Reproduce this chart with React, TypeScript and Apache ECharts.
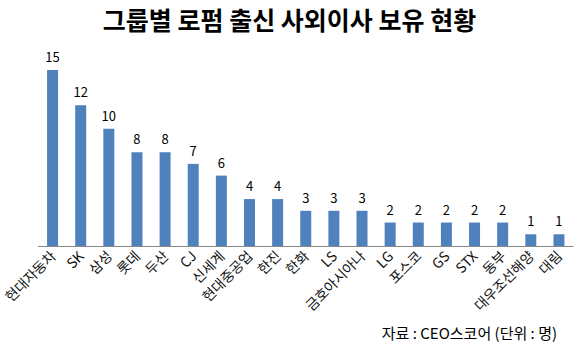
import React, { useEffect, useRef } from "react";
import * as echarts from "echarts";

const categories = ["현대자동차", "SK", "삼성", "롯데", "두산", "CJ", "신세계", "현대중공업", "한진", "한화", "LS", "금호아시아나", "LG", "포스코", "GS", "STX", "동부", "대우조선해양", "대림"];
const values = [15, 12, 10, 8, 8, 7, 6, 4, 4, 3, 3, 3, 2, 2, 2, 2, 2, 1, 1];
const title = "그룹별 로펌 출신 사외이사 보유 현황";
const note = "자료 : CEO스코어 (단위 : 명)";

const FONT = "'Noto Sans CJK KR', 'Noto Sans', sans-serif";

export default function App() {
  const ref = useRef<HTMLDivElement>(null);
  useEffect(() => {
    if (!ref.current) return;
    const chart = echarts.init(ref.current, null, { renderer: "svg" });
    chart.setOption({
      animation: false,
      backgroundColor: "#ffffff",
      textStyle: { fontFamily: FONT },
      title: {
        text: title,
        left: "center",
        top: 1,
        textStyle: { fontSize: 25, fontWeight: "bold", color: "#000", fontFamily: FONT },
      },
      graphic: [
        {
          type: "text",
          right: 22,
          top: 325,
          style: { text: note, fontSize: 15, fill: "#000", fontFamily: FONT },
        },
      ],
      grid: { left: 37, right: 6, top: 70, bottom: 109, containLabel: false },
      xAxis: {
        type: "category",
        data: categories,
        axisLine: { lineStyle: { color: "#888888" } },
        axisTick: { show: false },
        axisLabel: { rotate: 45, interval: 0, fontSize: 14, color: "#111", margin: 7, fontFamily: FONT },
      },
      yAxis: {
        type: "value",
        min: 0,
        max: 15,
        show: false,
        splitLine: { show: false },
      },
      series: [
        {
          type: "bar",
          data: values,
          barWidth: 11,
          itemStyle: { color: "#4F81BD" },
          label: { show: true, position: "top", fontSize: 13, color: "#000", distance: 7, fontFamily: FONT },
        },
      ],
    });
    return () => chart.dispose();
  }, []);
  return <div ref={ref} style={{ width: 579, height: 355, position: "absolute", left: 0, top: 0 }} />;
}
